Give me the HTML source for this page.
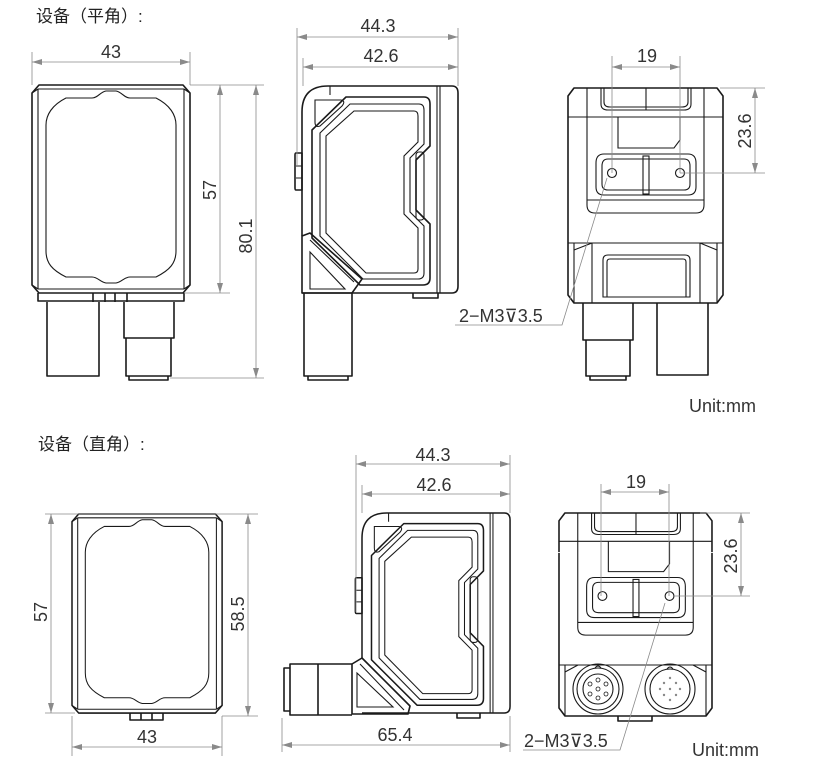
<!DOCTYPE html>
<html><head><meta charset="utf-8"><style>
html,body{margin:0;padding:0;background:#fff;}
svg{display:block;}
.b{fill:none;stroke:#1a1a1a;stroke-width:1.6;stroke-linejoin:round;}
.t{fill:none;stroke:#1a1a1a;stroke-width:1.1;}
.d{fill:none;stroke:#8a8a8a;stroke-width:0.8;}
.tx{font-family:"Liberation Sans",sans-serif;font-size:18px;fill:#333;}
.cn{font-family:"Liberation Sans","Noto Sans CJK SC",sans-serif;font-size:17px;fill:#222;}
</style></head><body>
<svg width="813" height="775" viewBox="0 0 813 775" xmlns="http://www.w3.org/2000/svg">
<defs>
<marker id="a" viewBox="0 0 10 6" refX="10" refY="3" markerWidth="10" markerHeight="6" orient="auto-start-reverse" markerUnits="userSpaceOnUse"><path d="M0,0 L10,3 L0,6 Z" fill="#8a8a8a"/></marker>
<g id="front">
 <path class="b" d="M7,0 H151 L158,8 V200 L151,208 H7 L0,200 V8 Z"/>
 <path class="t" d="M6,4 H152 M6,204 H152 M6,4 V204 M152,4 V204"/>
 <path class="t" d="M0,8 L6,4 M158,8 L152,4 M0,200 L6,204 M158,200 L152,204"/>
 <path class="t" d="M34,13 H60 C66,13 68,7 74,6 H84 C90,7 92,13 98,13 H124 C138,20 144,30 144,40 V166 C144,178 138,185 124,192 H98 C92,192 90,197 84,198 H74 C68,197 66,192 60,192 H34 C20,185 14,178 14,166 V40 C14,30 20,20 34,13 Z"/>
</g>
<g id="side">
 <path class="b" d="M0,150 V26 Q0,0 26,0 H150 Q156,0 156,7 V200 Q156,207 150,207 H0"/>
 <path class="t" d="M135,0 V207 M138,0 V207 M28,0 V9"/>
 <path class="b" d="M10,44 L44,11 H122 Q128,11 128,18 V60 L114,74 V124 L128,138 V192 Q128,199 121,199 H58 L10,152 Z"/>
 <path class="t" d="M18,47 L48,18 H117 Q122,18 122,24 V58 L108,72 V126 L122,140 V187 Q122,193 116,193 H61 L18,150 Z"/>
 <path class="t" d="M24,50 L52,25 H112 Q116,25 116,30 V56 L102,70 V128 L116,142 V183 Q116,187 112,187 H64 L24,147 Z"/>
 <rect class="t" x="114" y="66" width="8" height="68" rx="3"/>
 <path class="t" d="M13,14 H39 Q44,15 40,20 L18,40 Q13,42 13,36 Z"/>
 <path class="b" d="M-6,67 H0 V104 H-6 Q-7,104 -7,102 V69 Q-7,67 -6,67 Z"/>
 <path class="t" d="M-6,80 H0 M-6,92 H0"/>
</g>
<g id="backtop">
 <path class="b" d="M0,40 V8 L6,0 H149 L155,8 V40" />
 <path class="t" d="M19,0 V117 Q19,125 27,125 H128 Q136,125 136,117 V0"/>
 <path class="t" d="M33,0 V16 Q33,22 40,22 H116 Q123,22 123,16 V0 M36,0 V14 Q36,19 42,19 H114 Q120,19 120,14 V0 M78,0 V22"/>
 <path class="t" d="M0,29 H155"/>
 <path class="t" d="M50,29 V60 H106 L112,52 V29"/>
 <path class="t" d="M28,75 Q28,66 36,66 H120 Q128,66 128,75 V99 Q128,107 120,107 H36 Q28,107 28,99 Z"/>
 <path class="t" d="M34,78 Q34,71 40,71 H116 Q122,71 122,78 V96 Q122,102 116,102 H40 Q34,102 34,96 Z"/>
 <rect class="t" x="75" y="68" width="6" height="38"/>
 <path class="t" d="M19,112 H136"/>
 <circle class="t" cx="44" cy="85" r="4.5"/>
 <circle class="t" cx="112" cy="85" r="4.5"/>
</g>
</defs>

<!-- ===== TOP ROW ===== -->
<text class="cn" x="36" y="22">设备（平角）:</text>

<use href="#front" x="32" y="85"/>
<path class="b" d="M38,293 V301 H184 V293 M93,293 V302 M127,293 V302 M105,293 V302 M115,293 V302"/>
<path class="b" d="M47,302 V376 H99 V302 M124,302 V338 H174 V302 M126,338 V376 H171 V338"/>
<path class="b" d="M129,376 V380 H168 V376"/>
<path class="d" d="M32,52 V85 M190,52 V85"/>
<path class="d" d="M32,62 H190" marker-start="url(#a)" marker-end="url(#a)"/>
<text class="tx" x="111" y="58" text-anchor="middle">43</text>
<path class="d" d="M190,85 H264 M184,293 H230 M170,378 H264"/>
<path class="d" d="M220,85 V293" marker-start="url(#a)" marker-end="url(#a)"/>
<path class="d" d="M256,85 V378" marker-start="url(#a)" marker-end="url(#a)"/>
<text class="tx" transform="translate(216,190) rotate(-90)" text-anchor="middle">57</text>
<text class="tx" transform="translate(252,236) rotate(-90)" text-anchor="middle">80.1</text>

<use href="#side" x="302" y="86"/>
<path class="b" d="M302,236 L310,233 L362,279 L352,293 H302 Z"/>
<path class="t" d="M310,240 L354,282 M310,252 V289 H345 Z"/>
<path class="b" d="M304,293 V376 H352 V293"/>
<path class="b" d="M308,376 V380 H348 V376"/>
<path class="b" d="M413,293 V298 H438 V293"/>
<path class="d" d="M297,28 V165 M458,28 V86 M303,58 V86"/>
<path class="d" d="M297,37 H458" marker-start="url(#a)" marker-end="url(#a)"/>
<path class="d" d="M303,67 H458" marker-start="url(#a)" marker-end="url(#a)"/>
<text class="tx" x="378" y="32" text-anchor="middle">44.3</text>
<text class="tx" x="381" y="62" text-anchor="middle">42.6</text>

<use href="#backtop" x="568" y="88"/>
<path class="b" d="M568,128 V295 L574,303 H717 L723,295 V128"/>
<path class="t" d="M568,243 H723 M574,243 V303 M717,243 V303"/>
<path class="t" d="M574,250 L592,243 M717,250 L700,243"/>
<path class="t" d="M592,243 V303 M700,243 V303"/>
<path class="t" d="M603,297 V260 Q603,255 608,255 H685 Q690,255 690,260 V297 Z"/>
<path class="t" d="M607,297 V262 Q607,259 610,259 H683 Q686,259 686,262 V297"/>
<path class="b" d="M583,303 V340 H633 V303 M586,340 V376 H630 V340 M657,303 V375 H708 V303"/>
<path class="b" d="M590,376 V380 H626 V376"/>
<path class="d" d="M612,56 V173 M680,56 V173"/>
<path class="d" d="M612,67 H680" marker-start="url(#a)" marker-end="url(#a)"/>
<text class="tx" x="647" y="62" text-anchor="middle">19</text>
<path class="d" d="M720,88 H765 M680,173 H765"/>
<path class="d" d="M755,88 V173" marker-start="url(#a)" marker-end="url(#a)"/>
<text class="tx" transform="translate(751,131) rotate(-90)" text-anchor="middle">23.6</text>
<path class="d" d="M455,325 H562 L607,178"/>
<text class="tx" x="459" y="322">2−M3⊽3.5</text>
<text class="tx" x="689" y="412">Unit:mm</text>

<!-- ===== BOTTOM ROW ===== -->
<text class="cn" x="38" y="450">设备（直角）:</text>

<use href="#front" transform="translate(72,514) scale(0.95,0.957)"/>
<path class="b" d="M130,713 V720 H163 V713 M141,713 V720 M152,713 V720"/>
<path class="d" d="M45,514 H258 M45,713 H75 M222,716 H258"/>
<path class="d" d="M51,514 V713" marker-start="url(#a)" marker-end="url(#a)"/>
<path class="d" d="M248,514 V716" marker-start="url(#a)" marker-end="url(#a)"/>
<text class="tx" transform="translate(47,612) rotate(-90)" text-anchor="middle">57</text>
<text class="tx" transform="translate(244,614) rotate(-90)" text-anchor="middle">58.5</text>
<path class="d" d="M72,716 V756 M222,716 V756"/>
<path class="d" d="M72,747 H222" marker-start="url(#a)" marker-end="url(#a)"/>
<text class="tx" x="147" y="743" text-anchor="middle">43</text>

<use href="#side" transform="translate(362,513) scale(0.949,0.966)"/>
<path class="b" d="M362,658 L368,664 L410,706 L408,714 H352 V664 Z"/>
<path class="t" d="M360,664 L404,710 M357,673 V707 H393 Z"/>
<path class="b" d="M352,664 H290 V715 H352 M318,664 V715"/>
<path class="b" d="M290,668 H284 V711 H290"/>
<path class="b" d="M457,713 V718 H480 V713"/>
<path class="d" d="M356,455 V612 M510,455 V513 M362,485 V513"/>
<path class="d" d="M356,464 H510" marker-start="url(#a)" marker-end="url(#a)"/>
<path class="d" d="M362,494 H510" marker-start="url(#a)" marker-end="url(#a)"/>
<text class="tx" x="433" y="461" text-anchor="middle">44.3</text>
<text class="tx" x="434" y="491" text-anchor="middle">42.6</text>
<path class="d" d="M282,718 V752 M510,716 V752"/>
<path class="d" d="M282,745 H510" marker-start="url(#a)" marker-end="url(#a)"/>
<text class="tx" x="395" y="741" text-anchor="middle">65.4</text>

<use href="#backtop" transform="translate(559,513) scale(0.987,0.977)"/>
<path class="b" d="M559,553 V708 L565,716 H706 L712,708 V553"/>
<path class="t" d="M559,665 H712 M565,665 V716 M706,665 V716 M565,672 L578,665 M706,672 L693,665"/>
<circle class="t" cx="598" cy="689" r="25"/><circle class="t" cx="598" cy="689" r="21"/><circle class="t" cx="598" cy="689" r="15"/>
<circle class="t" cx="670" cy="689" r="25"/><circle class="t" cx="670" cy="689" r="20"/>
<g fill="none" stroke="#1a1a1a" stroke-width="0.8">
<circle cx="598" cy="689" r="2"/><circle cx="598" cy="680" r="2"/><circle cx="606" cy="684" r="2"/><circle cx="606" cy="694" r="2"/><circle cx="598" cy="698" r="2"/><circle cx="590" cy="694" r="2"/><circle cx="590" cy="684" r="2"/>
</g>
<g fill="#888"><circle cx="670" cy="689" r="1.2"/><circle cx="664" cy="683" r="1.2"/><circle cx="676" cy="683" r="1.2"/><circle cx="664" cy="695" r="1.2"/><circle cx="676" cy="695" r="1.2"/><circle cx="670" cy="678" r="1.2"/><circle cx="670" cy="700" r="1.2"/><circle cx="660" cy="689" r="1.2"/><circle cx="680" cy="689" r="1.2"/></g>
<path class="t" d="M595,668 Q598,664 601,668 M667,669 Q670,665 673,669"/>
<path class="b" d="M618,716 V721 H652 V716"/>
<path class="d" d="M601,484 V596 M669,484 V596"/>
<path class="d" d="M601,492 H669" marker-start="url(#a)" marker-end="url(#a)"/>
<text class="tx" x="636" y="488" text-anchor="middle">19</text>
<path class="d" d="M700,513 H750 M674,596 H750"/>
<path class="d" d="M741,513 V596" marker-start="url(#a)" marker-end="url(#a)"/>
<text class="tx" transform="translate(737,556) rotate(-90)" text-anchor="middle">23.6</text>
<path class="d" d="M523,750 H620 L665,603"/>
<text class="tx" x="524" y="747">2−M3⊽3.5</text>
<text class="tx" x="692" y="756">Unit:mm</text>
</svg>
</body></html>
